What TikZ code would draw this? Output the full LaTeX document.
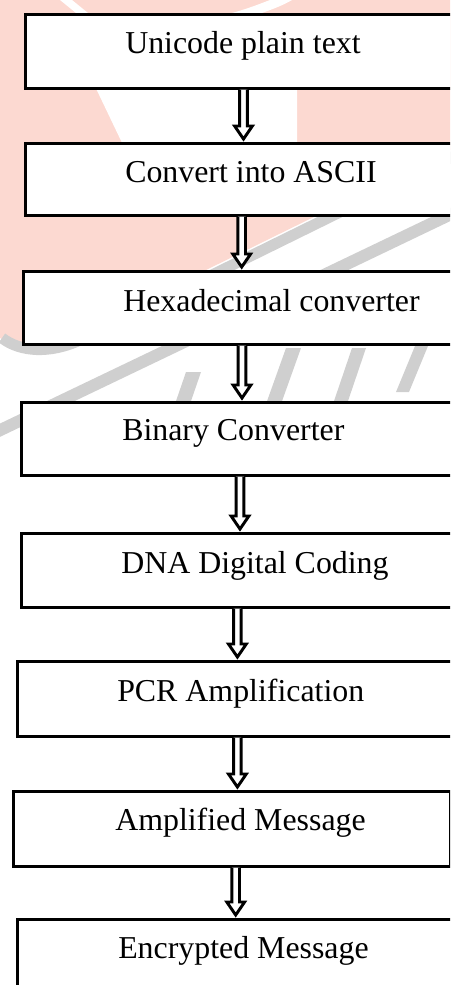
\documentclass[tikz,border=0pt]{standalone}
\usepackage{fontspec}
\setmainfont{Liberation Serif}
\usetikzlibrary{calc}
\definecolor{wmpink}{RGB}{252,217,209}
\definecolor{wmgrey}{RGB}{207,207,207}
\tikzset{
  stepbox/.style={draw=black, fill=white, line width=2pt, rectangle, inner sep=0pt, anchor=north west},
  steptext/.style={inner sep=0pt, anchor=base west, font=\fontsize{23.9}{28}\selectfont},
  fatarrow/.style={draw=black, fill=white, line width=2.2pt, miter limit=10, line join=miter},
}
\newcommand{\flowarrow}[3]{%
  \draw[fatarrow] ($(#1.south -| #3)+(-3.8,0)$) -- ($(#2.north -| #3)+(-3.8,-16)$)
    -- ($(#2.north -| #3)+(-8.9,-16)$) -- ($(#2.north -| #3)+(0,-3)$)
    -- ($(#2.north -| #3)+(8.9,-16)$) -- ($(#2.north -| #3)+(3.8,-16)$)
    -- ($(#1.south -| #3)+(3.8,0)$);}
\begin{document}
\begin{tikzpicture}[x=0.75pt,y=-0.75pt]
\useasboundingbox (0,0) rectangle (450,985);
\clip (0,0) rectangle (450,985);
% watermark
\fill[wmpink] (0,0) -- (450,0) -- (450,150) -- (80,332) .. controls (45,349) and (18,348) .. (0,338) -- cycle;
\fill[white] (91,78) -- (297,78) -- (297,170) -- (135,170) -- cycle;
\fill[white] (60,0) -- (72,0) -- (88,13) -- (76,13) -- cycle;
\fill[white] (232,13) .. controls (250,8) and (262,3) .. (270,0) -- (292,0) .. controls (282,6) and (270,10) .. (262,13) -- cycle;
\draw[wmgrey, line width=8.25pt] (470,148) -- (80,340) .. controls (50,354) and (20,352) .. (2,338);
\draw[wmgrey, line width=9pt] (-10,435) -- (470,205);
\fill[wmgrey] (175,404) -- (190,404) -- (201,372) -- (186,372) -- cycle;
\fill[wmgrey] (266,404) -- (281,404) -- (301,348) -- (286,348) -- cycle;
\fill[wmgrey] (333,404) -- (347,404) -- (366,348) -- (352,348) -- cycle;
\fill[wmgrey] (396,392) -- (409,392) -- (428,346) -- (415,346) -- cycle;
% boxes
\node[stepbox, minimum width={446*0.75pt}, minimum height={74*0.75pt}] (b1) at (24,13) {};
\node[stepbox, minimum width={446*0.75pt}, minimum height={72*0.75pt}] (b2) at (24,142) {};
\node[stepbox, minimum width={448*0.75pt}, minimum height={73*0.75pt}] (b3) at (22,270) {};
\node[stepbox, minimum width={450*0.75pt}, minimum height={73*0.75pt}] (b4) at (20,401) {};
\node[stepbox, minimum width={450*0.75pt}, minimum height={74*0.75pt}] (b5) at (20,532) {};
\node[stepbox, minimum width={454*0.75pt}, minimum height={75*0.75pt}] (b6) at (16,660) {};
\node[stepbox, minimum width={436.8*0.75pt}, minimum height={75*0.75pt}] (b7) at (12,790) {};
\node[stepbox, minimum width={454*0.75pt}, minimum height={82*0.75pt}] (b8) at (16,918) {};
% texts
\node[steptext] (t1) at (125,53) {Unicode plain text};
\node[steptext] (t2) at (125,182) {Convert into ASCII};
\node[steptext] (t3) at (123,311) {Hexadecimal converter};
\node[steptext] (t4) at (122,440) {Binary Converter};
\node[steptext] (t5) at (121,573) {DNA Digital Coding};
\node[steptext] (t6) at (117,701) {PCR Amplification};
\node[steptext] (t7) at (115,830) {Amplified Message};
\node[steptext] (t8) at (118,958) {Encrypted Message};
% arrows
\coordinate (x1) at (243.5,0);
\coordinate (x2) at (241.7,0);
\coordinate (x3) at (242,0);
\coordinate (x4) at (240,0);
\coordinate (x5) at (237.4,0);
\coordinate (x6) at (237.4,0);
\coordinate (x7) at (235.7,0);
\flowarrow{b1}{b2}{x1}
\flowarrow{b2}{b3}{x2}
\flowarrow{b3}{b4}{x3}
\flowarrow{b4}{b5}{x4}
\flowarrow{b5}{b6}{x5}
\flowarrow{b6}{b7}{x6}
\flowarrow{b7}{b8}{x7}
\end{tikzpicture}
\end{document}
